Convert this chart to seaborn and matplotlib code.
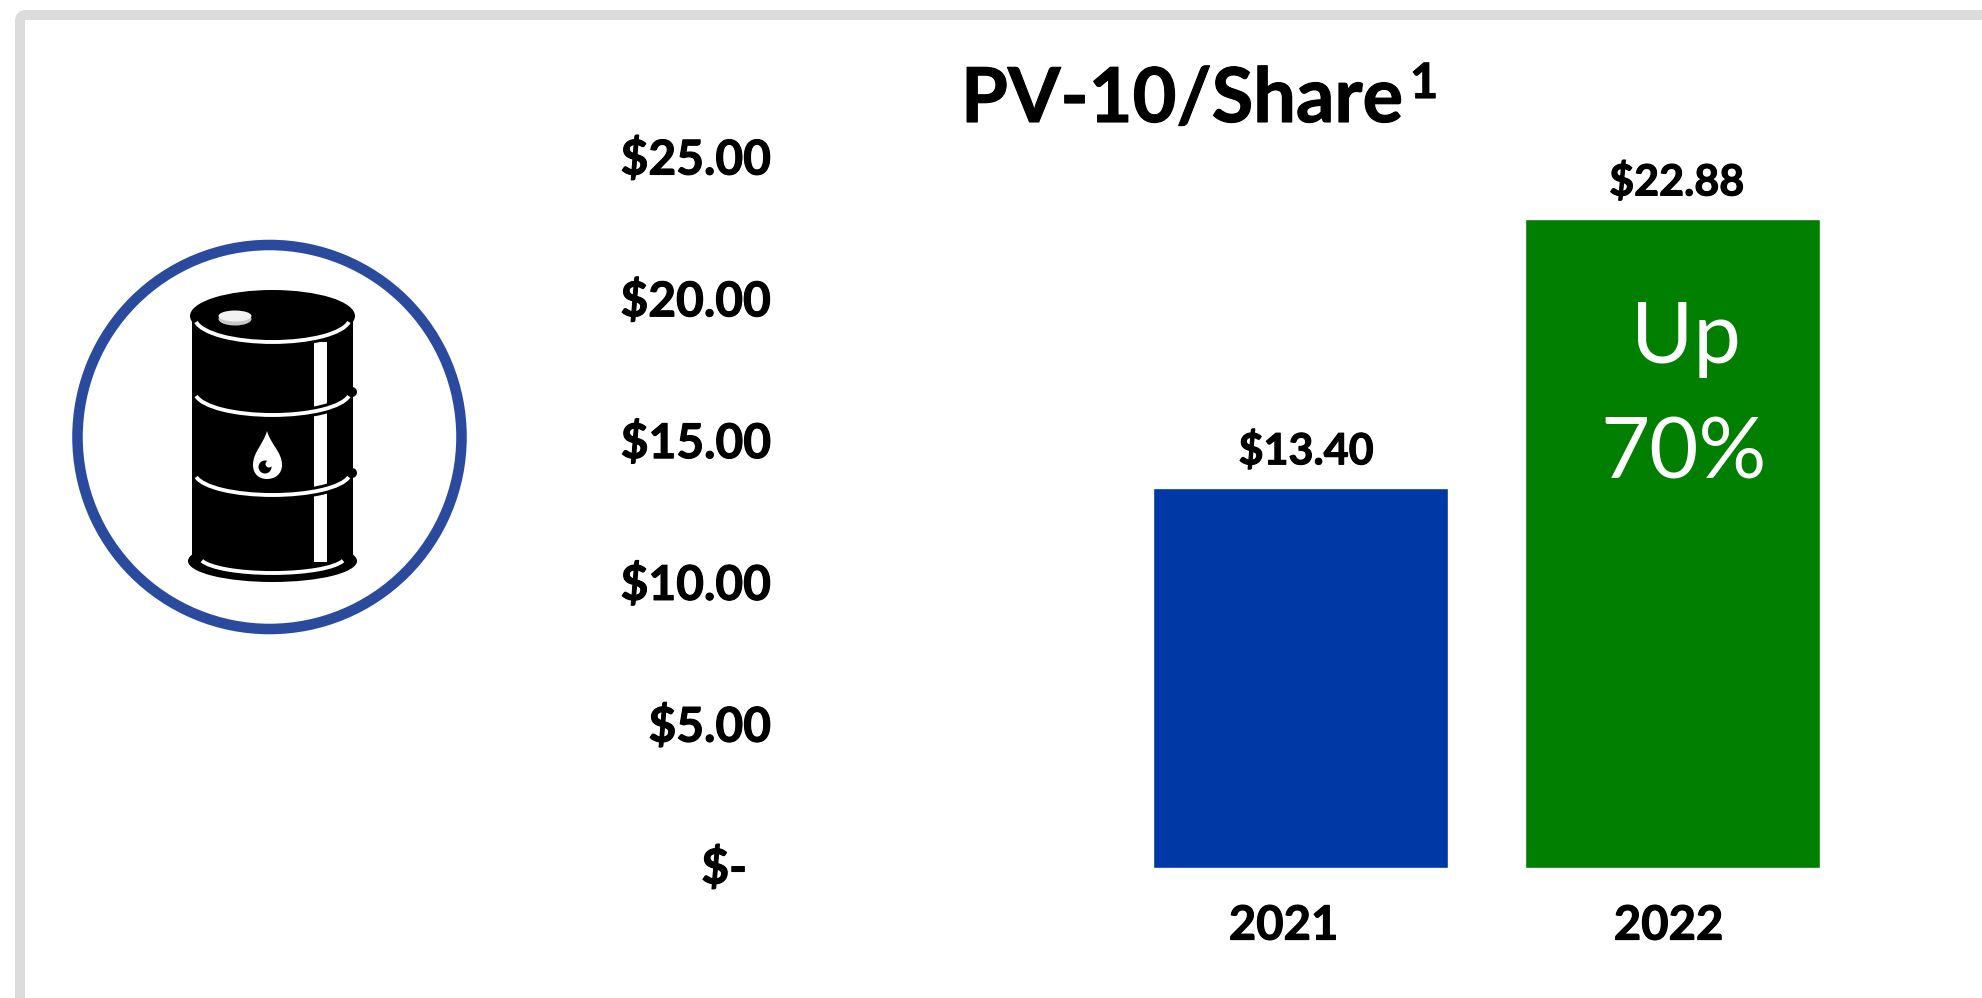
# PV-10/Share bar chart with the barrel icon

# imports
import pandas as pd
import matplotlib
matplotlib.use('Agg')
import matplotlib.pyplot as plt
import matplotlib.patheffects as pe
import matplotlib.transforms as mtrans
from matplotlib.patches import Arc, Circle, Ellipse, FancyBboxPatch, PathPatch, Rectangle
from matplotlib.path import Path
import seaborn as sns

# chart values
years = ['2021', '2022']
pv10_per_share = [13.40, 22.88]
bar_labels = ['$13.40', '$22.88']
bar_colors = ['#0039A6', '#007F00']
y_ticks = [0, 5, 10, 15, 20, 25]
y_tick_labels = ['$-', '$5.00', '$10.00', '$15.00', '$20.00', '$25.00']

W, H = 1983, 998

sns.set_theme(style='white')
plt.rcParams['font.family'] = ['Lato', 'DejaVu Sans']

# the original bold is a bit heavier than Lato Bold
heavier = [pe.withStroke(linewidth=0.8, foreground='black')]

fig = plt.figure(figsize=(W / 100, H / 100), dpi=100, facecolor='white')

######################## backdrop in pixel coordinates ########################
deco = fig.add_axes([0, 0, 1, 1], zorder=0)
deco.set_xlim(0, W)
deco.set_ylim(H, 0)
deco.axis('off')

# grey frame running off the right and bottom edges
deco.add_patch(FancyBboxPatch((20, 15), W + 100, H + 100,
                              boxstyle='round,pad=0,rounding_size=6',
                              fc='white', ec='#DCDCDC', lw=7.2))

# blue ring
deco.add_patch(Circle((269.5, 437), 192, fc='white', ec='#2A4A9E', lw=7.6))

# barrel body, lid and base
deco.add_patch(Rectangle((192, 316), 161, 245, fc='black', ec='none'))
deco.add_patch(Ellipse((272.5, 316), 165, 52, fc='black', ec='none'))
deco.add_patch(Ellipse((272.5, 561), 169, 42, fc='black', ec='none'))
deco.add_patch(Rectangle((314, 342), 13, 220, fc='white', ec='none'))

# hoops: a black arc under a thin white one, which breaks up the white strip
for cy, h, w in [(318, 48, 155), (392, 46, 155), (473, 44, 155), (557, 32, 145)]:
    deco.add_patch(Arc((272.5, cy), w, h, theta1=3, theta2=177, color='black', lw=7))
    deco.add_patch(Arc((272.5, cy), w, h, theta1=3, theta2=177, color='white', lw=2.8))
for cy in [392, 473]:
    deco.add_patch(Circle((352, cy), 5, fc='black', ec='none'))

# bung on the lid
deco.add_patch(Ellipse((235, 319), 33, 13, fc='#C8C8C8', ec='none'))
deco.add_patch(Ellipse((235, 316), 33, 11, fc='#F2F2F2', ec='none'))

# oil drop
drop = Path([(267, 431), (271, 445), (282, 452), (282, 465),
             (282, 474), (275, 479), (267, 479),
             (259, 479), (253, 474), (253, 465),
             (253, 452), (263, 445), (267, 431)],
            [Path.MOVETO] + [Path.CURVE4] * 12)
deco.add_patch(PathPatch(drop, fc='white', ec='none'))
deco.add_patch(Circle((265, 467), 6.5, fc='black', ec='none'))
deco.add_patch(Circle((269, 464), 3.5, fc='white', ec='none'))

# title with the footnote mark
deco.text(961, 122, 'PV-10/Share', fontsize=54.5, fontweight='bold', color='black',
          ha='left', va='baseline', path_effects=heavier)
deco.text(1410, 98, '1', fontsize=35, fontweight='bold', color='black',
          ha='left', va='baseline', path_effects=heavier)

############################## the bar chart ##################################
ax_left, ax_right, ax_top, ax_bottom = 780, W, 159, 868
ax = fig.add_axes([ax_left / W, 1 - ax_bottom / H,
                   (ax_right - ax_left) / W, (ax_bottom - ax_top) / H], zorder=1)
ax.patch.set_alpha(0)

df = pd.DataFrame({'year': years, 'value': pv10_per_share})
sns.barplot(data=df, x='year', y='value', hue='year', palette=bar_colors,
            width=0.793, saturation=1, legend=False, ax=ax)

ax.set_xlim((ax_left - 1300.5) / 372, (ax_right - 1300.5) / 372)
ax.set_ylim(0, 25)
ax.set_xlabel('')
ax.set_ylabel('')
ax.set_yticks(y_ticks, y_tick_labels, fontsize=34.5, fontweight='bold', color='black')
ax.set_xticks(range(len(years)), years, fontsize=34, fontweight='bold', color='black')
ax.tick_params(axis='y', length=0, pad=6.5)
ax.tick_params(axis='x', length=0, pad=25.6)
sns.despine(ax=ax, left=True, bottom=True)

# labels on the original sit a little off centre
dpi_trans = fig.dpi_scale_trans
for i, t in enumerate(ax.get_yticklabels()):
    dx = -24 if i == 0 else 0
    t.set_transform(t.get_transform() + mtrans.ScaledTranslation(dx / 100, 3 / 100, dpi_trans))
    t.set_path_effects(heavier)
for t, dx in zip(ax.get_xticklabels(), [-17, -4]):
    t.set_transform(t.get_transform() + mtrans.ScaledTranslation(dx / 100, 0, dpi_trans))
    t.set_path_effects(heavier)

for container, label, shift in zip(ax.containers, bar_labels, [4, 3]):
    for t in ax.bar_label(container, labels=[label], padding=12, fontsize=31,
                          fontweight='bold', color='black'):
        t.xyann = (shift, t.xyann[1])
        t.set_path_effects(heavier)

# callout on the 2022 bar
ax.text(1.035, 17.8, 'Up', fontsize=61, fontweight='normal', color='white',
        ha='center', va='baseline')
ax.text(1.03, 13.75, '70%', fontsize=61, fontweight='normal', color='white',
        ha='center', va='baseline')

fig.savefig('out.png', dpi=100)
